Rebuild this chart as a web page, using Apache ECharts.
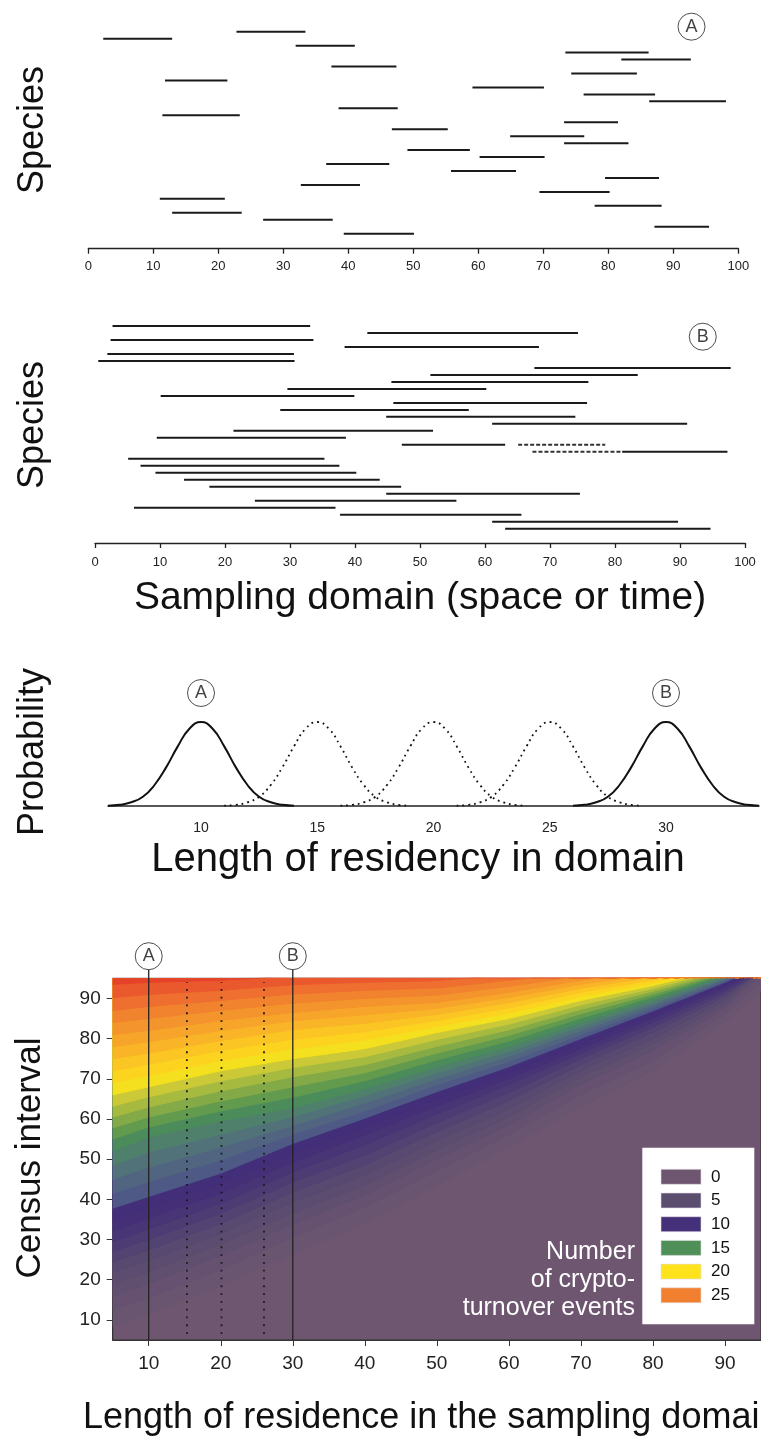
<!DOCTYPE html>
<html>
<head>
<meta charset="utf-8">
<title>Crypto-turnover</title>
<script src="https://cdn.jsdelivr.net/npm/echarts@6/dist/echarts.min.js"></script>
<style>
html, body { margin: 0; padding: 0; background: #fff; }
#main { width: 761px; height: 1437px; }
</style>
</head>
<body>
<div id="main"></div>
<script>
var FONT = "'Liberation Sans', Arial, sans-serif";

// panel A: range [start, end] of each species, rows top to bottom
var rangesA = [
  [22.8, 33.4], [2.3, 12.9], [31.9, 41.0], [73.4, 86.2], [82.0, 92.7],
  [37.4, 47.4], [74.3, 84.4], [11.8, 21.4], [59.1, 70.1], [76.2, 87.2],
  [86.3, 98.1], [38.5, 47.6], [11.4, 23.3], [73.2, 81.5], [46.7, 55.3],
  [64.9, 76.3], [73.2, 83.1], [49.1, 58.7], [60.2, 70.2], [36.6, 46.3],
  [55.8, 65.8], [79.5, 87.8], [32.7, 41.8], [69.4, 80.2], [11.0, 21.0],
  [77.9, 88.2], [12.9, 23.6], [26.9, 37.6], [87.1, 95.5], [39.3, 50.1]
];
// panel B
var rangesB = [
  [2.7, 33.1], [41.9, 74.3], [2.4, 33.6], [38.4, 68.3], [1.9, 30.6],
  [0.5, 30.7], [67.6, 97.8], [51.6, 83.5], [45.6, 75.9], [29.6, 60.2],
  [10.1, 39.9], [45.9, 75.7], [28.5, 57.5], [44.8, 73.9], [61.1, 91.1],
  [21.3, 52.0], [9.5, 38.6], [47.2, 63.1], [81.1, 97.3], [5.1, 35.3],
  [7.0, 37.6], [9.3, 40.2], [13.7, 43.8], [17.6, 47.1], [44.8, 74.6],
  [24.6, 55.6], [6.0, 37.0], [37.7, 65.6], [61.1, 89.7], [63.1, 94.7]
];
// broken (dashed-looking) pieces in panel B: [start, end, row]
var brokenB = [[65.1, 78.5, 18], [67.3, 81.1, 19]];

var ticksAB = [0, 10, 20, 30, 40, 50, 60, 70, 80, 90, 100];

// panel C: residency curve profile (offset from centre, relative height)
var profileOffsets = [-4, -3.5, -3, -2.5, -2, -1.5, -1, -0.5, 0, 0.5, 1, 1.5, 2, 2.5, 3, 3.5, 4];
var profileHeights = [0.004, 0.014, 0.044, 0.11, 0.25, 0.46, 0.71, 0.92, 1, 0.92, 0.71, 0.46, 0.25, 0.11, 0.044, 0.014, 0.004];
var solidCentres = [10, 30];
var dottedCentres = [15, 20, 25];
var ticksC = [10, 15, 20, 25, 30];

// panel D: contour lines (census interval at each residence length) per level
var contourX = [5, 10, 20, 30, 40, 50, 60, 70, 80, 90, 95];
var contourLevels = [1, 2, 3, 4, 5, 6, 7, 8, 9, 10, 11, 12, 13, 14, 15, 16, 17, 18, 19, 20, 21, 22, 23, 24, 25, 26, 27, 28, 29];
var contourRows = [
  [8.5, 11.5, 18.5, 26.5, 34, 43.5, 53, 63, 72, 84, 92],
  [12.5, 15.5, 22.5, 30.5, 38, 47, 56, 66, 74.5, 86, 94],
  [16, 19, 26, 33.8, 41, 50, 58.5, 68.5, 77, 87.5, 96],
  [19, 22, 28.8, 36.6, 43.5, 52.3, 60.5, 70.5, 78.5, 88.5, 97],
  [22, 24.8, 31.5, 39.3, 46, 54.6, 62.5, 72, 80, 89.5, 97],
  [24.5, 27.4, 34, 41.8, 48.5, 56.8, 64.5, 73.5, 81.5, 90.5, 97],
  [27, 30, 36.5, 44.3, 51, 59, 66.5, 75, 82.8, 91.3, 97],
  [29.5, 32.6, 39, 46.8, 53.5, 61.2, 68.5, 76.3, 84, 92, 97],
  [32.2, 35.3, 41.5, 49.2, 56, 63.2, 70, 77.5, 85, 92.8, 97],
  [35, 38, 44, 51.5, 58, 65, 71.5, 78.7, 86, 93.4, 97],
  [37.8, 40.7, 46.5, 53.9, 60.2, 66.8, 73, 80, 86.9, 94, 98],
  [41.5, 44.4, 49.8, 56.2, 62, 68.5, 74.3, 81, 87.6, 94.4, 98],
  [45, 48, 53, 58.4, 64, 70, 75.6, 82, 88.3, 94.8, 98],
  [48.5, 51.8, 56.2, 60.6, 65.8, 71.5, 76.8, 83, 89, 95.2, 98],
  [52, 55.5, 59.5, 62.8, 67.5, 73, 78, 84, 89.7, 95.6, 98],
  [55, 58, 62, 65.4, 69.5, 74.7, 79.4, 85.1, 90.4, 96, 98],
  [57.8, 60.5, 64.5, 68, 71.5, 76.4, 80.8, 86.2, 91.1, 96.4, 98],
  [60.5, 63, 67, 70.5, 73.5, 78.1, 82.2, 87.3, 91.8, 96.8, 98],
  [63.2, 65.5, 69.5, 72.8, 75.5, 79.8, 83.6, 88.4, 92.5, 97.2, 98],
  [66, 68, 72, 75, 77.5, 81.5, 85, 89.5, 93.2, 97.6, 98],
  [69, 70.8, 74.5, 77.4, 79.6, 83, 86.3, 90.5, 93.9, 98, 98],
  [72, 73.6, 77, 79.8, 81.7, 84.5, 87.6, 91.5, 94.6, 98, 98],
  [75, 76.4, 79.5, 82.2, 83.8, 86, 88.9, 92.5, 95.3, 98, 98],
  [78, 79.2, 82, 84.4, 85.9, 87.5, 90.2, 93.5, 96, 98, 98],
  [81, 82, 84.5, 86.5, 88, 89, 91.5, 94.5, 96.7, 98, 98],
  [84, 85, 87, 88.8, 90, 90.8, 93, 95.5, 97.4, 98, 98],
  [87, 88, 89.5, 91.1, 92, 92.6, 94.5, 96.5, 98, 98, 98],
  [90.2, 91, 92, 93.4, 94, 94.4, 96, 97.5, 98, 98, 98],
  [93.5, 94, 94.5, 95.6, 96.2, 96.5, 97.5, 98.5, 98.5, 98, 98]
];
var contourColors = [
  '#6a5571', '#665270', '#614f70', '#5c4c6f', '#574970', '#524372', '#4d3c74', '#483576',
  '#453078', '#432e7a', '#4e5986', '#516580', '#52727a', '#4f806c', '#4b8c5a', '#629b4e',
  '#84aa48', '#a7ba40', '#cbc937', '#f4e01e', '#fcd420', '#fbc524', '#f9b527', '#f7a52a',
  '#f4942c', '#f1832e', '#ee6f2f', '#ea592d', '#e5422a'
];
var baseColor = '#6e5670';
var ticksD = [10, 20, 30, 40, 50, 60, 70, 80, 90];
var solidLinesD = [10, 30];
var dottedLinesD = [15.3, 20.1, 26.0];

var legendValues = [0, 5, 10, 15, 20, 25];
var legendColors = ['#6e5670', '#5a4d6e', '#45307a', '#4e9058', '#fde21c', '#f08030'];

var chart = echarts.init(document.getElementById('main'), null, { renderer: 'canvas' });

function segItem(params, api) {
  var s = api.coord([api.value(0), api.value(2)]);
  var e = api.coord([api.value(1), api.value(2)]);
  return {
    type: 'line',
    shape: { x1: s[0], y1: s[1], x2: e[0], y2: e[1] },
    style: { stroke: '#1a1a1a', lineWidth: 2 }
  };
}
function brokenItem(params, api) {
  var s = api.coord([api.value(0), api.value(2)]);
  var e = api.coord([api.value(1), api.value(2)]);
  return {
    type: 'line',
    shape: { x1: s[0], y1: s[1], x2: e[0], y2: e[1] },
    style: { stroke: '#333', lineWidth: 2, lineDash: [4, 2] }
  };
}

function xAxisAB(idx, offset, margin) {
  return {
    gridIndex: idx, type: 'value', min: 0, max: 100, position: 'bottom', offset: offset,
    axisLine: { show: true, onZero: false, lineStyle: { color: '#222', width: 1.3 } },
    axisTick: { show: true, length: 5, customValues: ticksAB, lineStyle: { color: '#222', width: 1.3 } },
    axisLabel: { customValues: ticksAB, fontSize: 13, color: '#222', margin: margin, fontFamily: FONT },
    splitLine: { show: false }
  };
}

var series = [];
series.push({
  type: 'custom', xAxisIndex: 0, yAxisIndex: 0, renderItem: segItem, silent: true,
  encode: { x: [0, 1], y: 2 },
  data: rangesA.map(function (r, i) { return [r[0], r[1], i + 1]; })
});
series.push({
  type: 'custom', xAxisIndex: 1, yAxisIndex: 1, renderItem: segItem, silent: true,
  encode: { x: [0, 1], y: 2 },
  data: rangesB.map(function (r, i) { return [r[0], r[1], i + 1]; })
});
series.push({
  type: 'custom', xAxisIndex: 1, yAxisIndex: 1, renderItem: brokenItem, silent: true,
  encode: { x: [0, 1], y: 2 }, data: brokenB
});

// panel C curves
solidCentres.forEach(function (c) {
  series.push({
    type: 'line', xAxisIndex: 2, yAxisIndex: 2, smooth: true, symbol: 'none', clip: false,
    lineStyle: { color: '#111', width: 2 }, silent: true,
    data: profileOffsets.map(function (o, i) { return [c + o, profileHeights[i]]; })
  });
});
dottedCentres.forEach(function (c) {
  series.push({
    type: 'line', xAxisIndex: 2, yAxisIndex: 2, smooth: true, symbol: 'none', clip: false,
    lineStyle: { color: '#111', width: 1.8, type: [1.8, 4] }, silent: true,
    data: profileOffsets.map(function (o, i) { return [c + o, profileHeights[i]]; })
  });
});

// panel D filled contours, lowest level first
contourLevels.forEach(function (lv, k) {
  var col = contourColors[k];
  series.push({
    type: 'line', xAxisIndex: 3, yAxisIndex: 3, symbol: 'none', silent: true, z: 1,
    lineStyle: { color: col, width: 1 },
    areaStyle: { color: col, opacity: 1, origin: 'end' },
    data: contourX.map(function (x, j) { return [x, contourRows[k][j]]; })
  });
});
solidLinesD.forEach(function (x) {
  series.push({
    type: 'line', xAxisIndex: 3, yAxisIndex: 3, symbol: 'none', silent: true, z: 5, clip: false,
    lineStyle: { color: '#222', width: 1.3 },
    data: [[x, 5], [x, 97.3]]
  });
});
dottedLinesD.forEach(function (x) {
  series.push({
    type: 'line', xAxisIndex: 3, yAxisIndex: 3, symbol: 'none', silent: true, z: 5,
    lineStyle: { color: '#1a1a1a', width: 1.8, type: [1.8, 6] },
    data: [[x, 6.5], [x, 94]]
  });
});

// circled letters
function circles(xi, pts) {
  return {
    type: 'scatter', xAxisIndex: xi, yAxisIndex: xi, symbol: 'circle', symbolSize: 27, clip: false,
    silent: true, z: 10,
    itemStyle: { color: '#fff', borderColor: '#222', borderWidth: 1 },
    label: { show: true, position: 'inside', color: '#111', fontSize: 18, fontFamily: FONT,
      formatter: function (p) { return p.value[2]; } },
    data: pts
  };
}
series.push(circles(0, [[92.8, 0.28, 'A']]));
series.push(circles(1, [[93.5, 2.53, 'B']]));
series.push(circles(2, [[10, 1.345, 'A'], [30, 1.345, 'B']]));
series.push(circles(3, [[10, 100.5, 'A'], [30, 100.5, 'B']]));

function vText(txt, x, y, size) {
  return {
    type: 'text', x: x, y: y, rotation: Math.PI / 2, z: 100,
    style: { text: txt, fontSize: size, fontFamily: FONT, fill: '#111', align: 'center', verticalAlign: 'middle' }
  };
}
function hText(txt, x, y, size, align, color) {
  return {
    type: 'text', x: x, y: y, z: 100,
    style: { text: txt, fontSize: size, fontFamily: FONT, fill: color || '#111', align: align || 'center', verticalAlign: 'middle' }
  };
}

var graphics = [
  vText('Species', 33, 130, 36),
  vText('Species', 33, 425, 36),
  vText('Probability', 33, 752, 36),
  vText('Census interval', 30, 1158, 35),
  hText('Sampling domain (space or time)', 420, 598, 39),
  hText('Length of residency in domain', 418, 860, 40),
  hText('Length of residence in the sampling domain', 83, 1418, 36, 'left'),
  { type: 'rect', z: 100, shape: { x: 642.3, y: 1147.7, width: 112, height: 176.6 }, style: { fill: '#fff' } },
  hText('Number', 635, 1251.7, 25, 'right', '#fff'),
  hText('of crypto-', 635, 1280, 25, 'right', '#fff'),
  hText('turnover events', 635, 1308.3, 25, 'right', '#fff')
];
legendValues.forEach(function (v, i) {
  graphics.push({ type: 'rect', z: 101, shape: { x: 661, y: 1169.3 + i * 23.7, width: 40, height: 15 },
    style: { fill: legendColors[i], stroke: '#e4dde4', lineWidth: 0.6 } });
  graphics.push(hText(String(v), 711, 1177 + i * 23.7, 17, 'left'));
});

var option = {
  backgroundColor: '#fff',
  animation: false,
  grid: [
    { left: 88.3, top: 31.7, width: 650, height: 202 },
    { left: 95, top: 326, width: 650, height: 202.7 },
    { left: 108, top: 722, width: 651, height: 84 },
    { left: 112.7, top: 978.3, width: 650.7, height: 361.7, show: true, backgroundColor: baseColor,
      borderColor: '#333', borderWidth: 1 }
  ],
  xAxis: [
    xAxisAB(0, 15, 11),
    xAxisAB(1, 14.3, 13),
    {
      gridIndex: 2, type: 'value', min: 6, max: 34,
      axisLine: { show: true, onZero: false, lineStyle: { color: '#222', width: 1.5 } },
      axisTick: { show: false },
      axisLabel: { customValues: ticksC, fontSize: 14, color: '#222', margin: 15, fontFamily: FONT },
      splitLine: { show: false }
    },
    {
      gridIndex: 3, type: 'value', min: 5, max: 95,
      axisLine: { show: true, onZero: false, lineStyle: { color: '#333', width: 1 } },
      axisTick: { show: true, length: 6, customValues: ticksD, lineStyle: { color: '#333' } },
      axisLabel: { customValues: ticksD, fontSize: 19, color: '#222', margin: 14, fontFamily: FONT },
      splitLine: { show: false }
    }
  ],
  yAxis: [
    { gridIndex: 0, type: 'value', min: 1, max: 30, inverse: true, show: false },
    { gridIndex: 1, type: 'value', min: 1, max: 30, inverse: true, show: false },
    { gridIndex: 2, type: 'value', min: 0, max: 1, show: false },
    {
      gridIndex: 3, type: 'value', min: 5, max: 95,
      axisLine: { show: true, onZero: false, lineStyle: { color: '#333', width: 1 } },
      axisTick: { show: true, length: 6, customValues: ticksD, lineStyle: { color: '#333' } },
      axisLabel: { customValues: ticksD, fontSize: 19, color: '#222', margin: 12, fontFamily: FONT },
      splitLine: { show: false }
    }
  ],
  series: series,
  graphic: graphics
};
chart.setOption(option);
</script>
</body>
</html>
